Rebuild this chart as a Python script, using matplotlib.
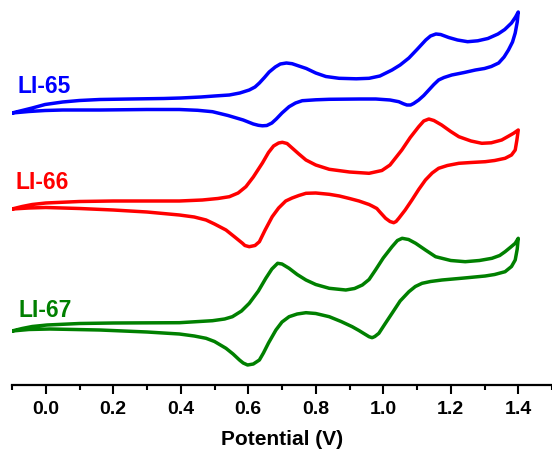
import matplotlib
matplotlib.use('Agg')
import matplotlib.pyplot as plt
from matplotlib.ticker import MultipleLocator

plt.rcParams['font.family'] = ['Liberation Sans', 'DejaVu Sans']
plt.rcParams['font.weight'] = 'bold'

# LI-65 (blue) - forward / reverse scan, current in a.u. (stacked)
v65_fwd = [-0.100, -0.07, -0.04, -0.002, 0.05, 0.10, 0.16, 0.25, 0.35, 0.40, 0.46, 0.50,
           0.544, 0.575, 0.603, 0.62, 0.633, 0.648, 0.662, 0.68, 0.695, 0.713, 0.73, 0.75,
           0.772, 0.80, 0.83, 0.869, 0.92, 0.958, 0.99, 1.026, 1.05, 1.076, 1.10, 1.126,
           1.14, 1.156, 1.17, 1.194, 1.22, 1.25, 1.28, 1.31, 1.34, 1.36, 1.38, 1.392, 1.400]
i65_fwd = [28.7, 28.95, 29.2, 29.55, 29.8, 29.95, 30.05, 30.1, 30.15, 30.2, 30.3, 30.4,
           30.5, 30.7, 31.0, 31.3, 31.7, 32.25, 32.8, 33.3, 33.6, 33.7, 33.63, 33.4,
           33.15, 32.7, 32.35, 32.17, 32.12, 32.17, 32.4, 33.0, 33.5, 34.2, 35.05, 36.0,
           36.4, 36.6, 36.55, 36.25, 36.0, 35.83, 35.92, 36.15, 36.6, 37.05, 37.7, 38.3, 38.8]
v65_rev = [1.400, 1.397, 1.391, 1.383, 1.371, 1.358, 1.342, 1.32, 1.30, 1.273, 1.24, 1.203,
           1.18, 1.164, 1.15, 1.135, 1.12, 1.105, 1.09, 1.081, 1.07, 1.06, 1.046, 1.02,
           0.978, 0.93, 0.84, 0.80, 0.76, 0.74, 0.721, 0.70, 0.683, 0.67, 0.655, 0.642,
           0.63, 0.615, 0.60, 0.585, 0.57, 0.54, 0.494, 0.45, 0.396, 0.30, 0.16, 0.05, -0.002,
           -0.05, -0.100]
i65_rev = [38.8, 37.8, 36.7, 35.8, 35.0, 34.3, 33.7, 33.35, 33.15, 33.0, 32.75, 32.5,
           32.25, 32.0, 31.55, 31.0, 30.45, 30.0, 29.65, 29.5, 29.5, 29.62, 29.83, 30.0,
           30.1, 30.1, 30.07, 30.02, 29.93, 29.7, 29.33, 28.7, 28.1, 27.7, 27.45, 27.42,
           27.47, 27.6, 27.8, 28.0, 28.15, 28.45, 28.83, 28.97, 29.05, 29.05, 29.0, 29.0, 28.95,
           28.85, 28.7]

# LI-66 (red)
v66_fwd = [-0.100, -0.07, -0.04, 0.0, 0.10, 0.20, 0.396, 0.464, 0.51, 0.544, 0.57, 0.593,
           0.615, 0.642, 0.66, 0.675, 0.69, 0.701, 0.715, 0.73, 0.75, 0.771, 0.80, 0.84,
           0.90, 0.958, 0.996, 1.02, 1.055, 1.08, 1.105, 1.12, 1.135, 1.15, 1.173, 1.20,
           1.224, 1.26, 1.292, 1.32, 1.351, 1.372, 1.386, 1.400]
i66_fwd = [19.1, 19.35, 19.55, 19.7, 19.85, 19.9, 19.9, 20.0, 20.15, 20.33, 20.7, 21.33,
           22.3, 23.7, 24.75, 25.4, 25.7, 25.77, 25.65, 25.2, 24.6, 24.0, 23.5, 23.07,
           22.8, 22.67, 22.95, 23.5, 25.0, 26.25, 27.33, 27.9, 28.1, 27.95, 27.5, 26.85,
           26.33, 25.9, 25.67, 25.72, 26.0, 26.4, 26.67, 27.0]
v66_rev = [1.400, 1.396, 1.391, 1.38, 1.361, 1.33, 1.302, 1.26, 1.224, 1.19, 1.164, 1.145,
           1.125, 1.105, 1.085, 1.065, 1.046, 1.038, 1.031, 1.02, 1.007, 0.99, 0.981, 0.967,
           0.958, 0.928, 0.90, 0.87, 0.84, 0.80, 0.771, 0.75, 0.73, 0.711, 0.69, 0.671,
           0.65, 0.633, 0.62, 0.603, 0.59, 0.583, 0.56, 0.534, 0.50, 0.475, 0.44, 0.396,
           0.30, 0.20, 0.10, 0.0, -0.05, -0.100]
i66_rev = [27.0, 26.0, 25.0, 24.5, 24.17, 23.95, 23.83, 23.75, 23.67, 23.45, 23.17, 22.7,
           22.0, 21.05, 20.0, 19.0, 18.17, 17.85, 17.73, 17.85, 18.17, 18.8, 19.15, 19.4,
           19.55, 19.9, 20.15, 20.4, 20.57, 20.7, 20.67, 20.45, 20.2, 19.9, 19.2, 18.33,
           17.0, 15.83, 15.45, 15.33, 15.45, 15.67, 16.3, 17.0, 17.6, 18.0, 18.3, 18.5,
           18.8, 19.0, 19.15, 19.25, 19.2, 19.1]

# LI-67 (green)
v67_fwd = [-0.100, -0.07, -0.04, 0.004, 0.10, 0.20, 0.396, 0.494, 0.53, 0.553, 0.58, 0.603,
           0.63, 0.652, 0.67, 0.687, 0.70, 0.721, 0.745, 0.771, 0.80, 0.84, 0.889, 0.915,
           0.938, 0.958, 0.977, 1.00, 1.026, 1.042, 1.056, 1.075, 1.096, 1.125, 1.155, 1.20,
           1.243, 1.285, 1.322, 1.345, 1.361, 1.378, 1.391, 1.400]
i67_fwd = [6.9, 7.15, 7.35, 7.5, 7.65, 7.7, 7.73, 7.93, 8.1, 8.33, 8.9, 9.67,
           10.9, 12.17, 13.1, 13.67, 13.6, 13.17, 12.55, 12.0, 11.55, 11.17, 11.0, 11.15,
           11.5, 12.05, 13.0, 14.2, 15.33, 15.95, 16.17, 16.05, 15.67, 15.0, 14.33, 13.95,
           13.83, 13.95, 14.17, 14.45, 14.83, 15.3, 15.67, 16.17]
v67_rev = [1.400, 1.397, 1.391, 1.38, 1.361, 1.33, 1.302, 1.24, 1.174, 1.14, 1.115, 1.095,
           1.076, 1.05, 1.026, 1.005, 0.987, 0.975, 0.967, 0.958, 0.94, 0.928, 0.908, 0.875,
           0.84, 0.80, 0.771, 0.745, 0.721, 0.70, 0.682, 0.66, 0.645, 0.633, 0.615, 0.598,
           0.585, 0.574, 0.555, 0.534, 0.50, 0.475, 0.44, 0.396, 0.30, 0.16, 0.012, -0.05,
           -0.100]
i67_rev = [16.17, 15.1, 14.0, 13.35, 12.83, 12.55, 12.4, 12.2, 12.0, 11.85, 11.67, 11.35,
           10.83, 9.9, 8.67, 7.6, 6.67, 6.35, 6.23, 6.33, 6.7, 6.95, 7.33, 7.85,
           8.33, 8.65, 8.73, 8.6, 8.33, 7.8, 7.0, 5.7, 4.7, 4.0, 3.6, 3.5,
           3.7, 4.0, 4.6, 5.17, 5.85, 6.17, 6.4, 6.6, 6.8, 7.0, 7.1, 7.05,
           6.9]

names = ['LI-65', 'LI-66', 'LI-67']
colors = ['#0000FF', '#FF0000', '#008000']
label_pos = [(-0.085, 30.7), (-0.091, 21.1), (-0.082, 8.3)]

fig = plt.figure(figsize=(5.52, 4.5), dpi=100)
ax = fig.add_axes([12 / 552, 65 / 450, 1 - 12 / 552, 1 - 65 / 450])

curves = [(v65_fwd + v65_rev, i65_fwd + i65_rev),
          (v66_fwd + v66_rev, i66_fwd + i66_rev),
          (v67_fwd + v67_rev, i67_fwd + i67_rev)]

for (v, i), c, name, (tx, ty) in zip(curves, colors, names, label_pos):
    ax.plot(v, i, color=c, lw=2.5, solid_joinstyle='round', solid_capstyle='round')
    ax.text(tx, ty, name, color=c, fontsize=16.5, fontweight='bold',
            ha='left', va='baseline')

ax.set_xlim(-0.1, 1.5)
ax.set_ylim(1.5, 40)

for s in ['top', 'right', 'left']:
    ax.spines[s].set_visible(False)
ax.spines['bottom'].set_linewidth(1.6)
ax.set_yticks([])

ax.xaxis.set_minor_locator(MultipleLocator(0.1))
ax.tick_params(axis='x', which='major', length=6.5, width=1.5, labelsize=14, pad=5)
ax.tick_params(axis='x', which='minor', length=3.5, width=1.5)
ax.set_xticks([0.0, 0.2, 0.4, 0.6, 0.8, 1.0, 1.2, 1.4])
ax.set_xticklabels(['0.0', '0.2', '0.4', '0.6', '0.8', '1.0', '1.2', '1.4'], fontweight='bold')
ax.set_xlabel('Potential (V)', fontsize=15, fontweight='bold', labelpad=9)

fig.savefig('out.png', dpi=100)
